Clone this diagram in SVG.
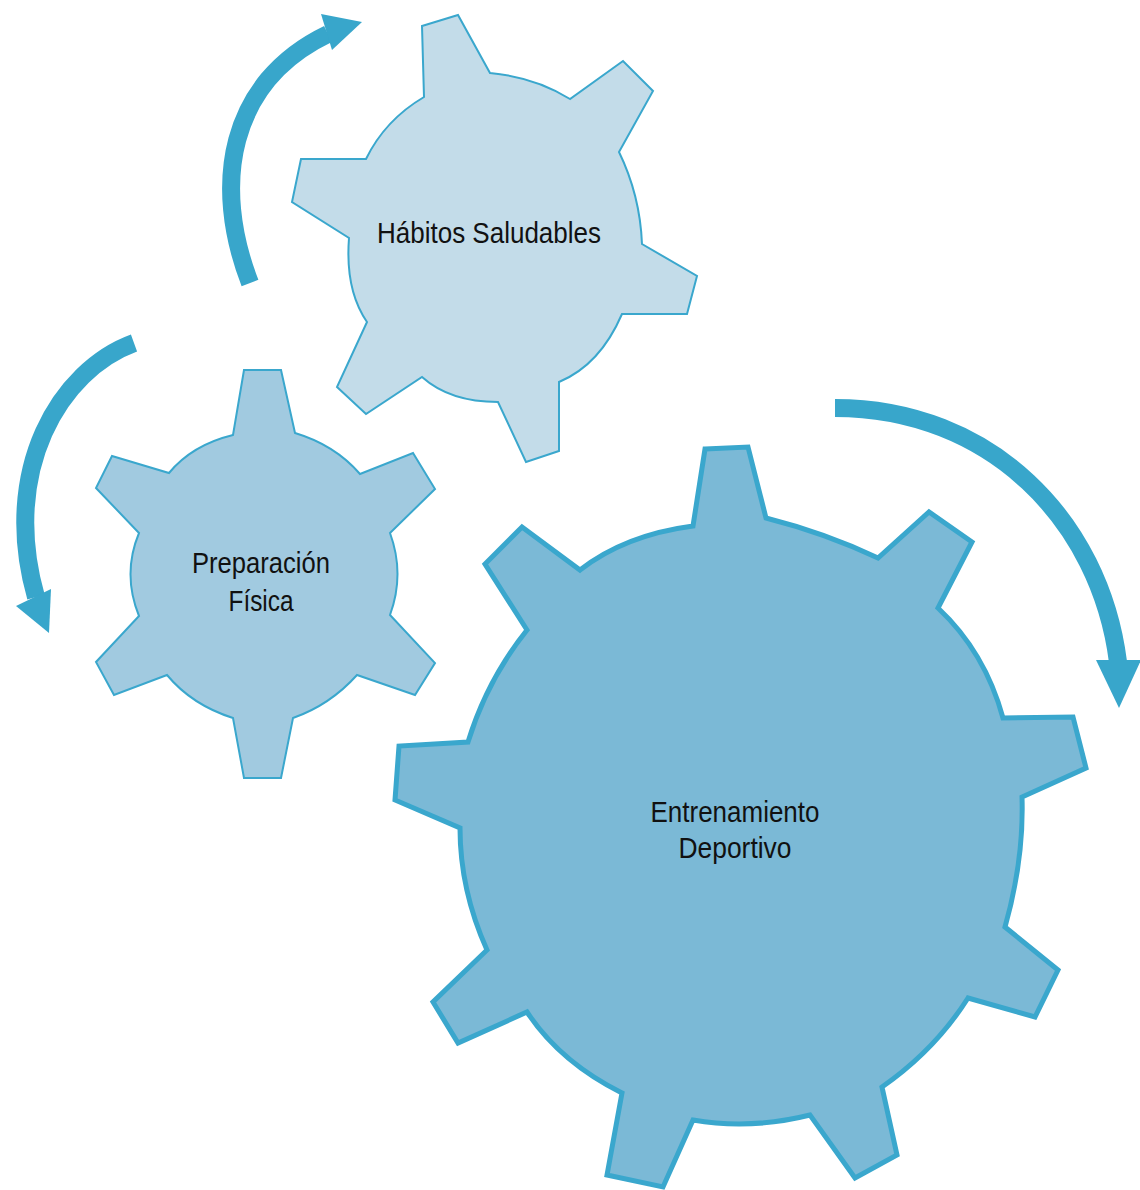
<svg xmlns="http://www.w3.org/2000/svg" width="1140" height="1190" viewBox="0 0 1140 1190">
<style>
  .gear { stroke: #3aa7cd; stroke-linejoin: miter; }
  .g1 { fill: #c3dce9; stroke-width: 2; }
  .g2 { fill: #a1cae0; stroke-width: 2; }
  .g3 { fill: #7bb9d6; stroke-width: 5; }
  .lbl { font-family: "Liberation Sans", Arial, sans-serif; font-size: 29px; fill: #111; text-anchor: middle; }
  .arc { fill: none; stroke: #38a6cb; stroke-width: 18; }
  .head { fill: #38a6cb; }
</style>
<rect width="1140" height="1190" fill="#ffffff"/>

<g id="connectors">
  <path class="arc" d="M250,283 C212,185 228,82 328,34"/>
  <polygon class="head" points="321,14 362,22 332,50"/>
  <path class="arc" d="M134,343 C60,370 0,470 36,597"/>
  <polygon class="head" points="16,606 51,589 49,633"/>
  <path class="arc" d="M835,408 C990,408 1100,520 1118,662"/>
  <polygon class="head" points="1096,660 1141,660 1119,708"/>
</g>

<g id="habitos-saludables">
  <path class="gear g1" d="M422,26 L458,15 L490,73 Q535,77 570,99 L623,61 L653,91 L619,152 Q640,195 642,244 L697,276 L687,314 L622,314 Q600,365 559,382 L559,451 L526,462 L498,402 Q450,402 422,377 L366,414 L337,387 L367,322 Q345,290 349,238 L292,202 L301,159 L366,159 Q385,120 424,97 Z"/>
  <text class="lbl" x="489" y="243" textLength="224" lengthAdjust="spacingAndGlyphs">Hábitos Saludables</text>
</g>

<g id="preparacion-fisica">
  <path class="gear g2" d="M244,370 L281,370 L295,433 Q335,445 360,474 L413,453 L435,489 L390,533 Q405,574 390,615 L435,663 L415,695 L357,675 Q330,705 293,718 L281,778 L244,778 L233,718 Q192,705 167,675 L114,695 L96,662 L139,616 Q122,574 139,533 L96,488 L112,456 L169,473 Q192,445 233,435 Z"/>
  <text class="lbl" x="261" y="573" textLength="138" lengthAdjust="spacingAndGlyphs">Preparación</text>
  <text class="lbl" x="261" y="611" textLength="65" lengthAdjust="spacingAndGlyphs">Física</text>
</g>

<g id="entrenamiento-deportivo">
  <path class="gear g3" d="M705,449 L748,447 L766,518 Q825,533 878,558 L929,512 L972,542 L938,608 Q985,652 1003,718 L1073,717 L1086,768 L1022,797 Q1024,860 1005,927 L1058,970 L1035,1017 L968,998 Q935,1050 882,1087 L897,1155 L855,1178 L810,1115 Q750,1130 693,1120 L663,1187 L607,1175 L622,1093 Q560,1062 527,1012 L458,1043 L433,1002 L487,950 Q460,890 460,828 L395,800 L399,746 L468,742 Q487,680 527,630 L485,564 L522,527 L580,570 Q625,535 693,526 Z"/>
  <text class="lbl" x="735" y="822" textLength="169" lengthAdjust="spacingAndGlyphs">Entrenamiento</text>
  <text class="lbl" x="735" y="858" textLength="113" lengthAdjust="spacingAndGlyphs">Deportivo</text>
</g>
</svg>
